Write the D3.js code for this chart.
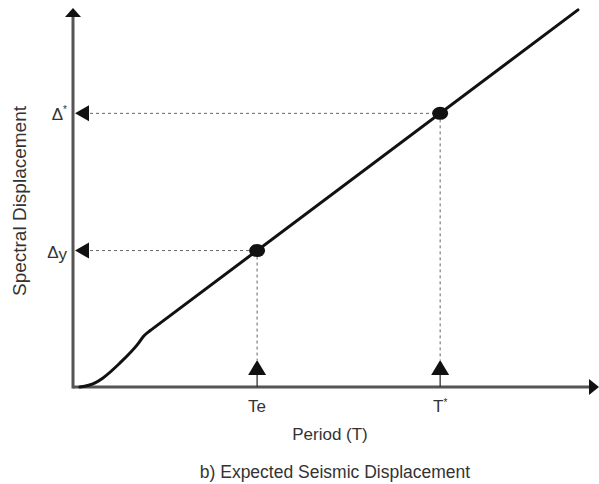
<!DOCTYPE html>
<html><head><meta charset="utf-8">
<script src="https://cdn.jsdelivr.net/npm/d3@7"></script>
<style>html,body{margin:0;padding:0;background:#fff;}svg{display:block;}</style>
</head><body>
<svg id="c" width="599" height="484"></svg>
<script>
// Curve data (period vs spectral displacement, arbitrary units)
const curvePeriod = [0.13, 0.42, 0.57, 0.89, 1.22, 1.35, 1.46, 9.60];
const curveDisp   = [0.00, 0.11, 0.24, 0.63, 1.11, 1.35, 1.48, 9.95];
// Marked points
const markLabelsX = ["Te", "T*"];
const markLabelsY = ["Δy", "Δ*"];
const markPeriod  = [3.50, 6.98];
const markDisp    = [3.60, 7.22];
const xTitle = "Period (T)";
const yTitle = "Spectral Displacement";
const caption = "b) Expected Seismic Displacement";

const svg = d3.select("#c");
const x = d3.scaleLinear().domain([0, 10]).range([73, 599]);
const y = d3.scaleLinear().domain([0, 10]).range([387, 8]);
const FONT = "'Liberation Sans', Arial, sans-serif";
const TXT = "#333";
const AX = "#555";

// axes
svg.append("line").attr("x1", x(0)).attr("x2", x(10) - 6).attr("y1", y(0)).attr("y2", y(0))
  .attr("stroke", AX).attr("stroke-width", 3);
svg.append("line").attr("x1", x(0)).attr("x2", x(0)).attr("y1", y(0) + 1.5).attr("y2", y(10) + 6)
  .attr("stroke", AX).attr("stroke-width", 3);
// axis arrowheads
svg.append("path").attr("d", `M${x(10)},${y(0)} L${x(10) - 10},${y(0) - 8} L${x(10) - 10},${y(0) + 8} Z`).attr("fill", "#111");
svg.append("path").attr("d", `M${x(0)},${y(10)} L${x(0) - 8},${y(10) + 9} L${x(0) + 8},${y(10) + 9} Z`).attr("fill", "#111");

// dotted guides
markPeriod.forEach((p, i) => {
  svg.append("line").attr("x1", x(0) + 17).attr("x2", x(p)).attr("y1", y(markDisp[i])).attr("y2", y(markDisp[i]))
    .attr("stroke", "#666").attr("stroke-width", 1).attr("stroke-dasharray", "3,3");
  svg.append("line").attr("x1", x(p)).attr("x2", x(p)).attr("y1", y(markDisp[i])).attr("y2", y(0) - 27)
    .attr("stroke", "#666").attr("stroke-width", 1).attr("stroke-dasharray", "3,3");
  const yy = y(markDisp[i]);
  svg.append("path").attr("d", `M${x(0) + 2},${yy} L${x(0) + 16},${yy - 8} L${x(0) + 16},${yy + 8} Z`).attr("fill", "#111");
  const xx = x(p);
  svg.append("path").attr("d", `M${xx},${y(0) - 27} L${xx - 9},${y(0) - 12} L${xx + 9},${y(0) - 12} Z`).attr("fill", "#111");
  svg.append("line").attr("x1", xx).attr("x2", xx).attr("y1", y(0) - 12).attr("y2", y(0))
    .attr("stroke", "#333").attr("stroke-width", 1.3);
});

// curve: smooth toe, then straight branch
const pts = curvePeriod.map((p, i) => [x(p), y(curveDisp[i])]);
const n = pts.length;
svg.append("path").attr("d", d3.line().curve(d3.curveMonotoneX)(pts.slice(0, n - 1)))
  .attr("fill", "none").attr("stroke", "#111").attr("stroke-width", 3).attr("stroke-linecap", "round");
svg.append("path").attr("d", d3.line()(pts.slice(n - 2)))
  .attr("fill", "none").attr("stroke", "#111").attr("stroke-width", 3).attr("stroke-linecap", "round");

// points
markPeriod.forEach((p, i) => {
  svg.append("ellipse").attr("cx", x(p)).attr("cy", y(markDisp[i])).attr("rx", 8).attr("ry", 6.5).attr("fill", "#111");
});

// labels
const tx = svg.append("g").attr("font-family", FONT).attr("fill", TXT).attr("font-size", 17);
markPeriod.forEach((p, i) => {
  const lab = markLabelsX[i];
  const t = tx.append("text").attr("x", x(p)).attr("y", 412).attr("text-anchor", "middle");
  if (lab[1] === "*") {
    t.append("tspan").text(lab[0]);
    t.append("tspan").attr("font-size", 10).attr("dy", -6).text("*");
  } else {
    t.text(lab);
  }
});
markDisp.forEach((d, i) => {
  const lab = markLabelsY[i];
  const base = y(d) + 7;
  const t = tx.append("text").attr("x", 67).attr("y", base).attr("text-anchor", "end");
  t.append("tspan").text(lab[0]);
  if (lab[1] === "*") {
    t.append("tspan").attr("font-size", 10).attr("dy", -7).text("*");
  } else {
    t.append("tspan").attr("dy", 2).text(lab[1]);
  }
});

tx.append("text").attr("x", 330).attr("y", 440).attr("text-anchor", "middle").text(xTitle);
tx.append("text").attr("transform", "translate(26,201) rotate(-90)").attr("text-anchor", "middle")
  .attr("font-size", 19).text(yTitle);
tx.append("text").attr("x", 335).attr("y", 478).attr("text-anchor", "middle").attr("font-size", 17.5).text(caption);
</script>
</body></html>
